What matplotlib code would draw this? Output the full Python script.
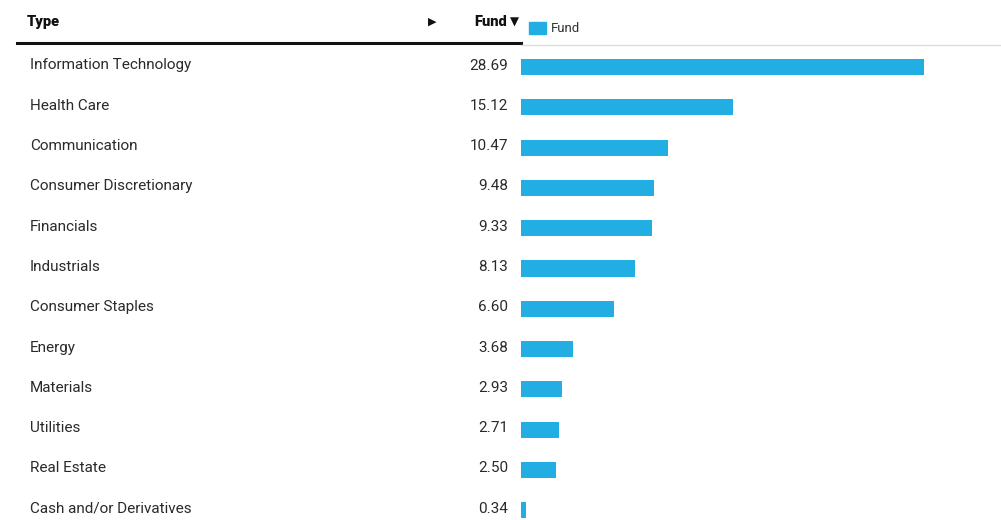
import matplotlib
matplotlib.use("Agg")
import matplotlib.pyplot as plt
from matplotlib.transforms import blended_transform_factory

# sector weights (%)
sectors = ["Information Technology", "Health Care", "Communication",
           "Consumer Discretionary", "Financials", "Industrials",
           "Consumer Staples", "Energy", "Materials", "Utilities",
           "Real Estate", "Cash and/or Derivatives"]
fund = [28.69, 15.12, 10.47, 9.48, 9.33, 8.13, 6.60, 3.68, 2.93, 2.71, 2.50, 0.34]

W, H = 1001, 520
BLUE = "#22ade3"
plt.rcParams['font.family'] = ['Roboto', 'DejaVu Sans']

fig = plt.figure(figsize=(W / 100, H / 100), dpi=100)


def px(x, y):
    return x / W, 1 - y / H


# bar area: left at 521 px, right edge of figure; rows 40.3 px apart, first bar centre at 67 px
x0, y0 = px(521, 520)
x1, y1 = px(1001, 45)
ax = fig.add_axes([x0, y0, x1 - x0, y1 - y0])
rows = list(range(len(sectors)))
ax.barh(rows, fund, height=0.40, color=BLUE)
ax.set_xlim(0, 480 / 14.05)
ax.set_ylim((520 - 67) / 40.3, (45 - 67) / 40.3)
ax.axis("off")

# labels and values on the table side (text sits a little above bar centre)
tr = blended_transform_factory(fig.transFigure, ax.transData)
for i, (s, v) in enumerate(zip(sectors, fund)):
    yy = i - 1.5 / 40.3
    ax.text(30 / W, yy, s, transform=tr, ha="left", va="center", fontsize=11, color="#2a2a2a")
    ax.text(508 / W, yy, f"{v:.2f}", transform=tr, ha="right", va="center", fontsize=11,
            color="#2a2a2a")

# header
fig.text(*px(27, 22), "Type", ha="left", va="center", fontsize=10.5, fontweight="black", color="#111111")
fig.text(*px(432, 22), "\u25B6", ha="center", va="center", fontsize=8, color="#111111",
         family=['DejaVu Sans'])
fig.text(*px(507, 22), "Fund", ha="right", va="center", fontsize=10.5, fontweight="black", color="#111111")
fig.text(*px(514, 22), "\u25BC", ha="center", va="center", fontsize=8.5, color="#111111",
         family=['DejaVu Sans'])

# legend
fig.patches.append(plt.Rectangle(px(529, 34), 17 / W, 12 / H, transform=fig.transFigure,
                                 color=BLUE, figure=fig))
fig.text(*px(551, 28), "Fund", ha="left", va="center", fontsize=9.5, color="#333333")

# header rules
fig.add_artist(plt.Line2D([17 / W, 521 / W], [1 - 43 / H] * 2, color="#111111", lw=2.2,
                          transform=fig.transFigure))
fig.add_artist(plt.Line2D([521 / W, 1], [1 - 45 / H] * 2, color="#dddddd", lw=1,
                          transform=fig.transFigure))

fig.savefig("out.png", dpi=100)
